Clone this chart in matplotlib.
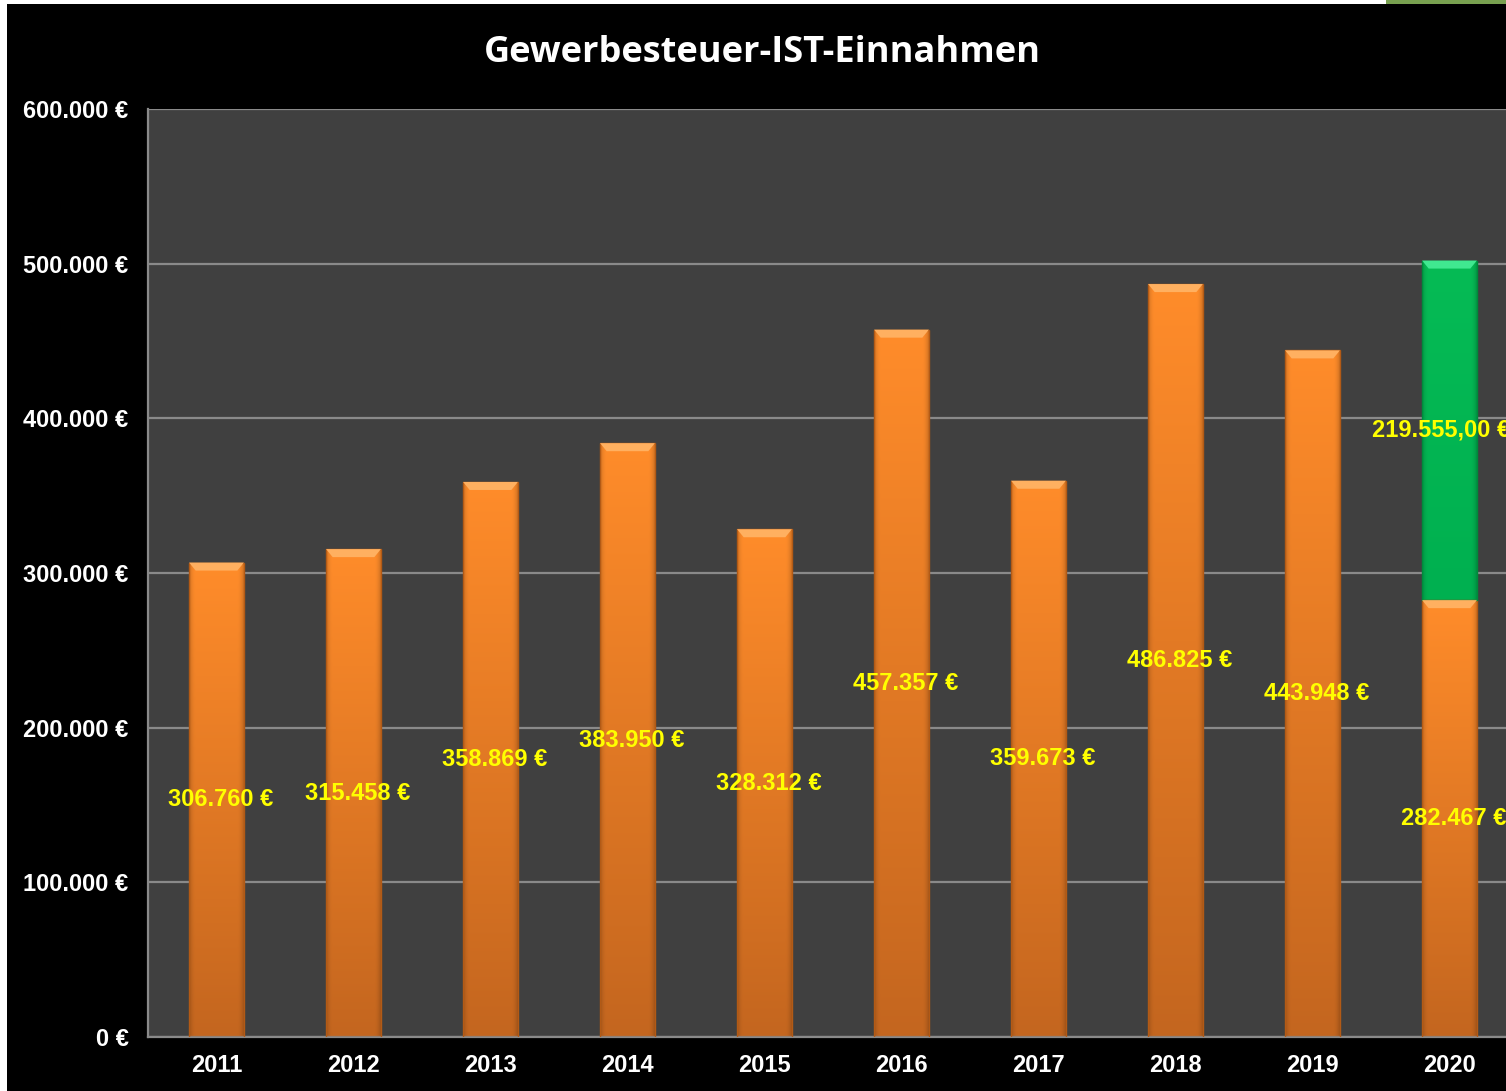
import numpy as np
import matplotlib
matplotlib.use("Agg")
import matplotlib.pyplot as plt
from matplotlib.patches import Rectangle, Polygon
from matplotlib.colors import to_rgb

# data
years = ["2011", "2012", "2013", "2014", "2015", "2016", "2017", "2018", "2019", "2020"]
ist = [306760, 315458, 358869, 383950, 328312, 457357, 359673, 486825, 443948, 282467]
extra = [0, 0, 0, 0, 0, 0, 0, 0, 0, 219555]
yticks = [0, 100000, 200000, 300000, 400000, 500000, 600000]

FONT = ["Liberation Sans", "DejaVu Sans"]
W, H = 1506, 1091
fig = plt.figure(figsize=(W / 100, H / 100), dpi=100)
fig.patch.set_facecolor("white")
# black chart area (screenshot crop) + strip at top right
fig.add_artist(Rectangle((7 / W, 0), 1, 1 - 4 / H, transform=fig.transFigure,
                         facecolor="black", edgecolor="none", zorder=0))
fig.add_artist(Rectangle((1386 / W, 1 - 4 / H), 1, 4 / H, transform=fig.transFigure,
                         facecolor="#78a050", edgecolor="none", zorder=0))

ax = fig.add_axes([148 / W, 54 / H, 1370 / W, 928 / H])
ax.set_facecolor("#404040")

bw = 0.40
cap = 5200


def grad_bar(x, y0, h, top, bottom, edge, capc):
    x0, x1 = x - bw / 2, x + bw / 2
    t = np.linspace(0, 1, 120)[:, None]
    s = np.linspace(0, 1, 60)[None, :]
    c_top, c_bot = np.array(to_rgb(top)), np.array(to_rgb(bottom))
    col = c_top[None, None, :] * (1 - t[..., None]) + c_bot[None, None, :] * t[..., None]
    shade = 1 - 0.18 * (np.clip(1 - s / 0.12, 0, 1) ** 2 + np.clip((s - 0.88) / 0.12, 0, 1) ** 2)
    col = col * shade[..., None]
    rect = Rectangle((x0, y0), bw, h, facecolor="none", edgecolor=edge, lw=1, zorder=3)
    ax.add_patch(rect)
    im = ax.imshow(np.clip(col, 0, 1), extent=[x0, x1, y0, y0 + h], origin="upper",
                   aspect="auto", zorder=2, interpolation="bilinear")
    im.set_clip_path(rect)
    inset = bw * 0.12
    ax.add_patch(Polygon([(x0, y0 + h), (x1, y0 + h), (x1 - inset, y0 + h - cap),
                          (x0 + inset, y0 + h - cap)], closed=True,
                         facecolor=capc, edgecolor="none", zorder=4))


for i, v in enumerate(ist):
    grad_bar(i, 0, v, "#ff8c2a", "#c4661f", "#b35a15", "#ffb060")
    ax.text(i + 0.03, v / 2, f"{v:,}".replace(",", ".") + " €", ha="center", va="center",
            color="#ffff00", fontsize=17, fontweight="bold", family=FONT, zorder=6)
    if extra[i]:
        grad_bar(i, v, extra[i], "#06bb55", "#00b050", "#008a3c", "#40e890")
        lab = f"{extra[i]:,.2f}".replace(",", "X").replace(".", ",").replace("X", ".") + " €"
        ax.text(i - 0.06, v + extra[i] / 2, lab, ha="center", va="center",
                color="#ffff00", fontsize=17, fontweight="bold", family=FONT, zorder=6)

ax.set_xlim(-0.5, len(years) - 0.5)
ax.set_ylim(0, 600000)
ax.set_yticks(yticks)
ax.set_yticklabels([f"{v:,}".replace(",", ".") + " €" if v else "0 €" for v in yticks])
ax.set_xticks(range(len(years)))
ax.set_xticklabels(years)
for lbl in ax.get_xticklabels() + ax.get_yticklabels():
    lbl.set_color("white")
    lbl.set_fontsize(17)
    lbl.set_fontweight("bold")
    lbl.set_family(FONT)
ax.tick_params(length=0)
ax.tick_params(axis="y", pad=14)
ax.tick_params(axis="x", pad=12)
ax.grid(axis="y", color="#8a8a8a", lw=1.6, zorder=1)
ax.set_axisbelow(True)
for side in ["top", "right"]:
    ax.spines[side].set_visible(False)
for side in ["left", "bottom"]:
    ax.spines[side].set_color("#8a8a8a")
    ax.spines[side].set_linewidth(1.6)

fig.text(762 / W, 1 - 53 / H, "Gewerbesteuer-IST-Einnahmen", ha="center", va="center",
         color="white", fontsize=26, fontweight="bold", family=["Open Sans", "DejaVu Sans"])

fig.savefig("out.png", dpi=100, facecolor=fig.get_facecolor())
